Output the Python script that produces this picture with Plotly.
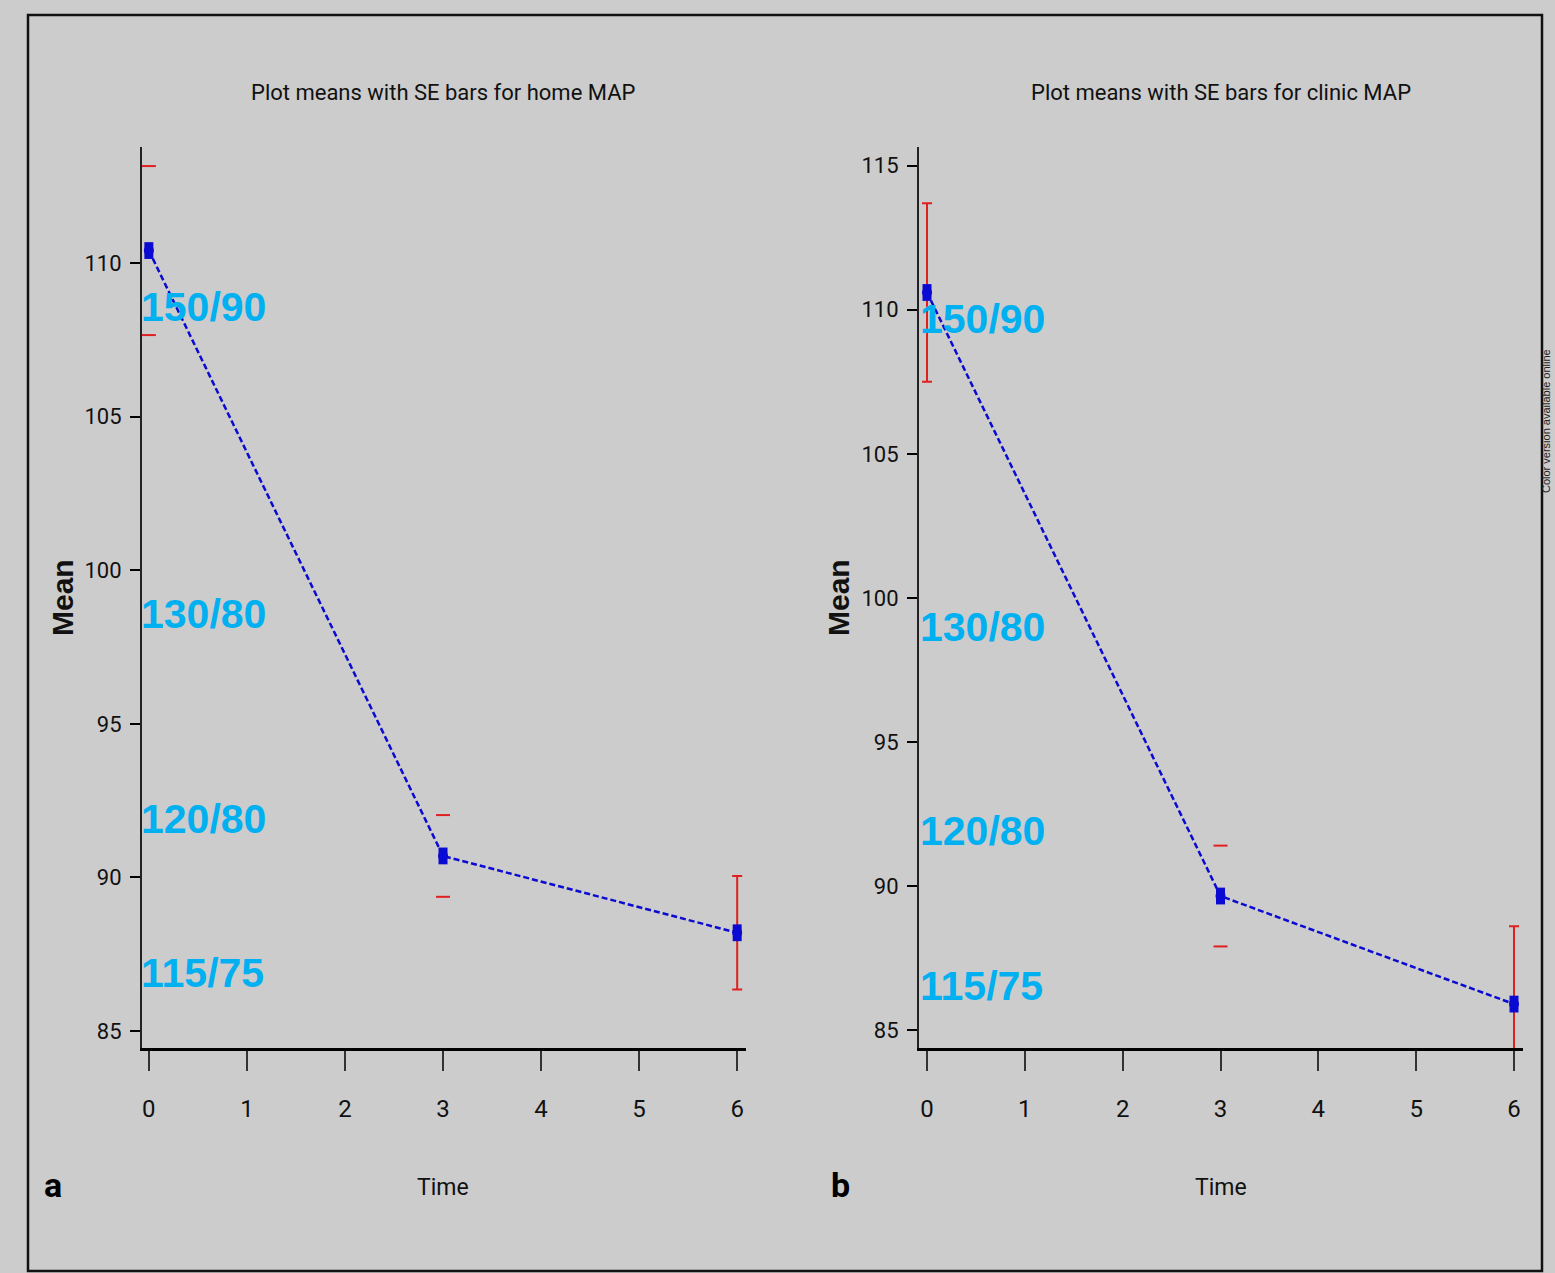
import plotly.graph_objects as go

# ---------------- data ----------------
time_points = [0, 3, 6]
home_means = [110.4, 90.7, 88.2]
home_se = [2.75, 1.33, 1.85]
home_stem = [False, False, True]

clinic_means = [110.6, 89.65, 85.9]
clinic_se = [3.1, 1.75, 2.7]
clinic_stem = [True, False, True]

x_ticks = [0, 1, 2, 3, 4, 5, 6]
home_y_ticks = [85, 90, 95, 100, 105, 110]
clinic_y_ticks = [85, 90, 95, 100, 105, 110, 115]

titles = ["Plot means with SE bars for home MAP", "Plot means with SE bars for clinic MAP"]
panel_letters = ["a", "b"]
bp_labels = ["150/90", "130/80", "120/80", "115/75"]
side_note = "Color version available online"

# ---------------- style ----------------
W, H = 1555, 1273
BG = "#cccccc"
BLUE = "#0a0ad2"
RED = "#e02020"
CYAN = "#00b0f0"
NARROW = "Roboto, Liberation Sans Narrow, Liberation Sans, Arial, sans-serif"
BOLD = "Liberation Sans, Arial, sans-serif"


def px(xp):
    return xp / W


def py(yp):
    return 1 - yp / H


fig = go.Figure()

panels = [
    dict(means=home_means, se=home_se, stem=home_stem, xa="x", ya="y"),
    dict(means=clinic_means, se=clinic_se, stem=clinic_stem, xa="x2", ya="y2"),
]

for p in panels:
    xa, ya = p["xa"], p["ya"]
    # dashed connecting line
    fig.add_trace(go.Scatter(x=time_points, y=p["means"], mode="lines",
                             line=dict(color=BLUE, width=2.5, dash="6px,3px"),
                             xaxis=xa, yaxis=ya, showlegend=False, hoverinfo="skip"))
    # error bars with stems
    sx = [t for t, s in zip(time_points, p["stem"]) if s]
    sy = [m for m, s in zip(p["means"], p["stem"]) if s]
    se_s = [e for e, s in zip(p["se"], p["stem"]) if s]
    fig.add_trace(go.Scatter(x=sx, y=sy, mode="markers",
                             marker=dict(size=1, color="rgba(0,0,0,0)"),
                             error_y=dict(type="data", array=se_s, visible=True,
                                          color=RED, thickness=2, width=5),
                             xaxis=xa, yaxis=ya, showlegend=False, hoverinfo="skip"))
    # cap-only error bars
    cx, cy = [], []
    for t, m, e, s in zip(time_points, p["means"], p["se"], p["stem"]):
        if not s:
            cx += [t, t]
            cy += [m + e, m - e]
    fig.add_trace(go.Scatter(x=cx, y=cy, mode="markers",
                             marker=dict(symbol="line-ew", size=10,
                                         line=dict(color=RED, width=2)),
                             xaxis=xa, yaxis=ya, showlegend=False, hoverinfo="skip"))
    # mean markers (tall ellipse look)
    fig.add_trace(go.Scatter(x=time_points, y=p["means"], mode="markers",
                             marker=dict(symbol="line-ns", size=12,
                                         line=dict(color=BLUE, width=9)),
                             xaxis=xa, yaxis=ya, showlegend=False, hoverinfo="skip"))
    fig.add_trace(go.Scatter(x=time_points, y=p["means"], mode="markers",
                             marker=dict(symbol="circle", size=10, color=BLUE,
                                         line=dict(width=0)),
                             xaxis=xa, yaxis=ya, showlegend=False, hoverinfo="skip"))

xaxis_common = dict(showline=True, linecolor="#000000", linewidth=3,
                    ticks="outside", ticklen=20, tickwidth=2, tickcolor="#333333",
                    tickvals=x_ticks, showgrid=False, zeroline=False,
                    tickfont=dict(family=NARROW, size=24, color="#111111"),
                    ticklabelstandoff=17, automargin=False, fixedrange=True)
yaxis_common = dict(showline=True, linecolor="#222222", linewidth=2,
                    ticks="outside", ticklen=10, tickwidth=2, tickcolor="#000000",
                    showgrid=False, zeroline=False,
                    tickfont=dict(family=NARROW, size=22, color="#111111"),
                    ticklabelstandoff=4, automargin=False, fixedrange=True)

fig.update_layout(
    width=W, height=H,
    margin=dict(l=0, r=0, t=0, b=0),
    paper_bgcolor=BG, plot_bgcolor=BG,
    showlegend=False,
    xaxis=dict(xaxis_common, domain=[px(142), px(746)], range=[-0.07, 6.09], anchor="y"),
    yaxis=dict(yaxis_common, domain=[py(1048), py(147)], range=[84.45, 113.77],
               tickvals=home_y_ticks, anchor="x"),
    xaxis2=dict(xaxis_common, domain=[px(919), px(1523)], range=[-0.082, 6.092], anchor="y2"),
    yaxis2=dict(yaxis_common, domain=[py(1048), py(147)], range=[84.375, 115.65],
                tickvals=clinic_y_ticks, anchor="x2"),
)

# outer frame
fig.add_shape(type="rect", xref="paper", yref="paper",
              x0=px(28), x1=px(1542), y0=py(1271), y1=py(15),
              line=dict(color="#111111", width=2.5), fillcolor="rgba(0,0,0,0)")

ann = []
title_x = [443, 1221]
time_x = [443, 1221]
mean_x = [62, 838]
letter_x = [53, 840]
label_left = [139, 918]
label_y = [[307, 614, 819, 973], [319, 627, 831, 986]]

for i in range(2):
    ann.append(dict(text=titles[i], x=px(title_x[i]), y=py(93), xref="paper", yref="paper",
                    xanchor="center", yanchor="middle", showarrow=False,
                    font=dict(family=NARROW, size=22, color="#111111")))
    ann.append(dict(text="Time", x=px(time_x[i]), y=py(1187), xref="paper", yref="paper",
                    xanchor="center", yanchor="middle", showarrow=False,
                    font=dict(family=NARROW, size=23, color="#111111")))
    ann.append(dict(text="<b>Mean</b>", x=px(mean_x[i]), y=py(598), xref="paper", yref="paper",
                    xanchor="center", yanchor="middle", showarrow=False, textangle=-90,
                    font=dict(family=BOLD, size=30, color="#111111")))
    ann.append(dict(text="<b>" + panel_letters[i] + "</b>", x=px(letter_x[i]), y=py(1185),
                    xref="paper", yref="paper", xanchor="center", yanchor="middle",
                    showarrow=False, font=dict(family=NARROW, size=34, color="#000000")))
    for lab, yy in zip(bp_labels, label_y[i]):
        ann.append(dict(text="<b>" + lab + "</b>", x=px(label_left[i]), y=py(yy),
                        xref="paper", yref="paper", xanchor="left", yanchor="middle",
                        showarrow=False, font=dict(family=BOLD, size=41, color=CYAN)))

ann.append(dict(text=side_note, x=px(1554), y=py(495), xref="paper", yref="paper",
                xanchor="right", yanchor="bottom", showarrow=False, textangle=-90,
                font=dict(family=BOLD, size=11, color="#222222")))

fig.update_layout(annotations=ann)

fig.write_html("out.html", config={"displayModeBar": False},
               post_script="document.body.style.margin='0px';document.body.style.padding='0px';")
